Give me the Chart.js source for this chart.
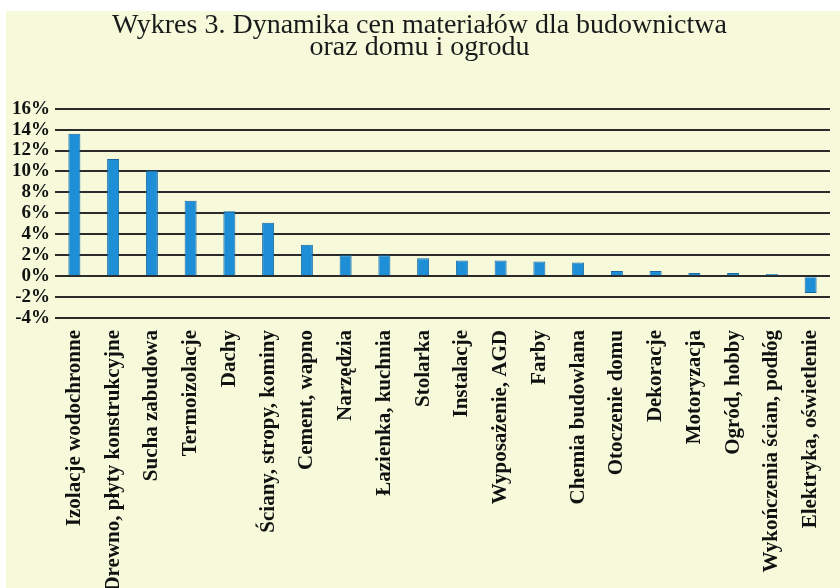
<!DOCTYPE html>
<html>
<head>
<meta charset="utf-8">
<script src="https://cdn.jsdelivr.net/npm/chart.js@4.4.0/dist/chart.umd.min.js"></script>
<style>
  html, body { margin: 0; padding: 0; background: #ffffff; }
  #wrap { position: absolute; left: 6px; top: 11px; width: 834px; height: 577px; background: #f6fadb; }
</style>
</head>
<body>
<div id="wrap"><canvas id="chart"></canvas></div>
<script>
const categories = [
  'Izolacje wodochronne', 'Drewno, płyty konstrukcyjne', 'Sucha zabudowa', 'Termoizolacje',
  'Dachy', 'Ściany, stropy, kominy', 'Cement, wapno', 'Narzędzia', 'Łazienka, kuchnia',
  'Stolarka', 'Instalacje', 'Wyposażenie, AGD', 'Farby', 'Chemia budowlana',
  'Otoczenie domu', 'Dekoracje', 'Motoryzacja', 'Ogród, hobby',
  'Wykończenia ścian, podłóg', 'Elektryka, oświetlenie'
];
const priceChange = [13.6, 11.2, 10.1, 7.2, 6.2, 5.1, 3.0, 2.0, 2.0, 1.7,
  1.5, 1.5, 1.4, 1.3, 0.5, 0.5, 0.3, 0.3, 0.2, -1.6];
const titleLines = ['Wykres 3. Dynamika cen materiałów dla budownictwa', 'oraz domu i ogrodu'];

const ctx = document.getElementById('chart').getContext('2d');
new Chart(ctx, {
  type: 'bar',
  data: {
    labels: categories,
    datasets: [{
      data: priceChange,
      backgroundColor: '#1e8fd6',
      borderColor: '#1769a3',
      borderWidth: 1,
      barPercentage: 0.31,
      categoryPercentage: 1
    }]
  },
  options: {
    responsive: true,
    maintainAspectRatio: false,
    animation: false,
    layout: { padding: { top: 0, right: 7, left: 0, bottom: 0 } },
    plugins: {
      legend: { display: false },
      tooltip: { enabled: false },
      title: {
        display: true,
        text: titleLines,
        color: '#1a1a1a',
        font: { family: 'Liberation Serif', size: 28, weight: 'normal', lineHeight: 0.78 },
        padding: { top: 4, bottom: 50 }
      }
    },
    scales: {
      x: {
        grid: { display: false },
        border: { display: false },
        ticks: {
          color: '#111111',
          minRotation: 90,
          maxRotation: 90,
          autoSkip: false,
          padding: 4,
          font: { family: 'Liberation Serif', size: 21, weight: 'bold' }
        },
        afterFit(scale) { scale.height = 270; }
      },
      y: {
        min: -4,
        max: 16,
        grid: { color: '#2b2b2b', lineWidth: 2, drawTicks: false },
        border: { display: false },
        ticks: {
          stepSize: 2,
          autoSkip: false,
          color: '#111111',
          padding: 5,
          font: { family: 'Liberation Serif', size: 19, weight: 'bold', lineHeight: 1 },
          callback: function(value) { return value + '%'; }
        },
        afterFit(scale) { scale.width = 49; }
      }
    }
  }
});
</script>
</body>
</html>
